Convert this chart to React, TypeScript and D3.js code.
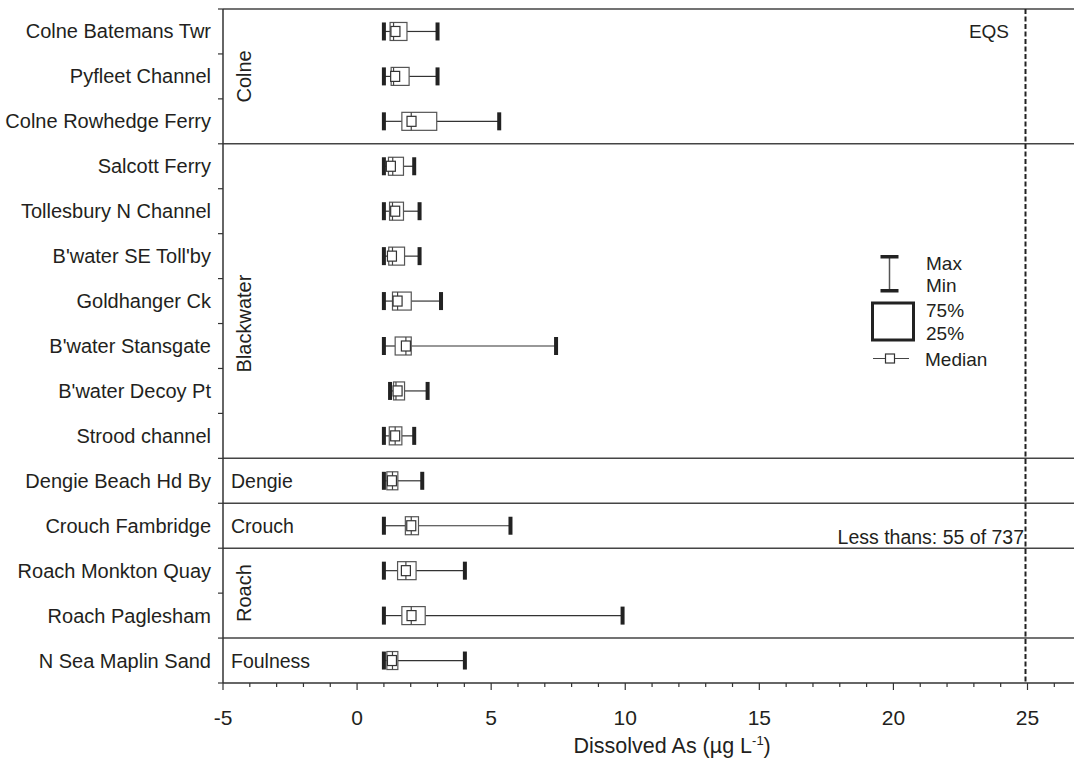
import React from "react";
import * as d3 from "d3";

// Sampling sites, top to bottom
const sites = [
  "Colne Batemans Twr",
  "Pyfleet Channel",
  "Colne Rowhedge Ferry",
  "Salcott Ferry",
  "Tollesbury N Channel",
  "B'water SE Toll'by",
  "Goldhanger Ck",
  "B'water Stansgate",
  "B'water Decoy Pt",
  "Strood channel",
  "Dengie Beach Hd By",
  "Crouch Fambridge",
  "Roach Monkton Quay",
  "Roach Paglesham",
  "N Sea Maplin Sand",
];

// Dissolved As summary statistics (µg/L) per site
const minVals = [1.0, 1.0, 1.0, 1.0, 1.0, 1.0, 1.0, 1.0, 1.23, 1.0, 1.0, 1.0, 1.0, 1.0, 1.0];
const q25Vals = [1.23, 1.27, 1.67, 1.17, 1.21, 1.18, 1.32, 1.42, 1.36, 1.2, 1.11, 1.8, 1.51, 1.67, 1.11];
const medianLineVals = [1.36, 1.36, 2.02, 1.33, 1.32, 1.32, 1.51, 1.82, 1.45, 1.42, 1.32, 2.02, 1.82, 2.02, 1.32];
const medianMarkVals = [1.43, 1.42, 2.03, 1.26, 1.42, 1.3, 1.51, 1.82, 1.51, 1.42, 1.3, 2.02, 1.82, 2.03, 1.3];
const q75Vals = [1.86, 1.94, 2.97, 1.73, 1.73, 1.77, 2.02, 2.02, 1.77, 1.67, 1.52, 2.29, 2.2, 2.54, 1.52];
const maxVals = [3.0, 3.0, 5.3, 2.13, 2.33, 2.33, 3.13, 7.42, 2.63, 2.13, 2.43, 5.72, 4.02, 9.9, 4.02];

// Estuary groups: name, first site index, last site index
const groupNames = ["Colne", "Blackwater", "Dengie", "Crouch", "Roach", "Foulness"];
const groupFirst = [0, 3, 10, 11, 12, 14];
const groupLast = [2, 9, 10, 11, 13, 14];

const xTicksMajor = [-5, 0, 5, 10, 15, 20, 25];
const eqsValue = 25;
const lessThansText = "Less thans: 55 of 737";

const W = 1074;
const H = 763;
const FONT = "'Liberation Sans', Arial, Helvetica, sans-serif";
const INK = "#231f20";

export default function App() {
  const plotLeft = 223;
  const plotTop = 9;
  const plotBottom = 683;

  const x = d3.scaleLinear().domain([-5, 25]).range([plotLeft, 1027.5]);
  const y = d3.scaleBand<string>().domain(sites).range([plotTop, plotBottom]).paddingInner(0).paddingOuter(0);
  const bw = y.bandwidth();
  const cy = (i: number) => (y(sites[i]) as number) + bw / 2;

  const minorTicks = d3.range(-5, 27, 1);
  const boundaries = d3.range(0, sites.length + 1).map((i) => plotTop + i * bw);

  const boxH = 18;
  const capW = 4;
  const markW = 9;
  const markH = 10;

  // rotated group labels are centred on a chosen row position (in row units)
  const rotatedAnchor: Record<string, number> = { Colne: 1.5, Blackwater: 7.0, Roach: 13.0 };

  return (
    <svg
      width={W}
      height={H}
      style={{ position: "absolute", left: 0, top: 0, display: "block", background: "#fff" }}
      fontFamily={FONT}
    >
      <rect x={0} y={0} width={W} height={H} fill="#fff" />

      {/* group separators and top frame */}
      {[plotTop, ...groupLast.slice(0, -1).map((g) => plotTop + (g + 1) * bw)].map((yy, i) => (
        <line key={"sep" + i} x1={plotLeft} x2={W} y1={yy} y2={yy} stroke="#444" strokeWidth={1.5} />
      ))}

      {/* EQS line */}
      <line
        x1={x(eqsValue) - 2}
        x2={x(eqsValue) - 2}
        y1={plotTop}
        y2={plotBottom}
        stroke="#222"
        strokeWidth={2}
        strokeDasharray="5,2.5"
      />
      <text x={1009} y={38} textAnchor="end" fontSize={19} fill={INK}>
        EQS
      </text>
      <text x={1024} y={544} textAnchor="end" fontSize={19.5} fill={INK}>
        {lessThansText}
      </text>

      {/* left axis */}
      <line x1={plotLeft} x2={plotLeft} y1={plotTop} y2={plotBottom} stroke="#333" strokeWidth={1.5} />
      {boundaries.map((b, i) => (
        <line key={"yt" + i} x1={plotLeft - 5} x2={plotLeft} y1={b} y2={b} stroke="#333" strokeWidth={1.2} />
      ))}
      {sites.map((s, i) => (
        <text key={s} x={211} y={cy(i) + 7} textAnchor="end" fontSize={20} fill={INK}>
          {s}
        </text>
      ))}

      {/* bottom axis */}
      <line x1={plotLeft} x2={W} y1={plotBottom} y2={plotBottom} stroke="#333" strokeWidth={1.5} />
      {minorTicks.map((t) => (
        <line
          key={"xt" + t}
          x1={x(t)}
          x2={x(t)}
          y1={plotBottom}
          y2={plotBottom + (t % 5 === 0 ? 7 : 4)}
          stroke="#333"
          strokeWidth={1.2}
        />
      ))}
      {xTicksMajor.map((t) => (
        <text key={"xl" + t} x={x(t)} y={725} textAnchor="middle" fontSize={21} fill={INK}>
          {t}
        </text>
      ))}
      <text x={x(11.75)} y={753} textAnchor="middle" fontSize={21.5} fill={INK}>
        Dissolved As (µg L
        <tspan dy={-8} fontSize={13}>
          -1
        </tspan>
        <tspan dy={8}>)</tspan>
      </text>

      {/* group labels */}
      {groupNames.map((g, gi) => {
        const first = groupFirst[gi];
        const last = groupLast[gi];
        if (last > first) {
          const yc = plotTop + rotatedAnchor[g] * bw;
          return (
            <text
              key={"g" + g}
              transform={`translate(251,${yc}) rotate(-90)`}
              textAnchor="middle"
              fontSize={20}
              fill={INK}
            >
              {g}
            </text>
          );
        }
        return (
          <text key={"g" + g} x={231} y={cy(first) + 7} fontSize={19.5} fill={INK}>
            {g}
          </text>
        );
      })}

      {/* box plots */}
      {sites.map((s, i) => {
        const c = cy(i);
        const xMin = x(minVals[i]);
        const xMax = x(maxVals[i]);
        const x25 = x(q25Vals[i]);
        const x75 = x(q75Vals[i]);
        const xMed = x(medianLineVals[i]);
        const xMark = x(medianMarkVals[i]);
        return (
          <g key={"bp" + i}>
            <line x1={xMin} x2={x25} y1={c} y2={c} stroke="#333" strokeWidth={1.2} />
            <line x1={x75} x2={xMax} y1={c} y2={c} stroke="#333" strokeWidth={1.2} />
            <rect
              x={x25}
              y={c - boxH / 2}
              width={x75 - x25}
              height={boxH}
              fill="#fff"
              stroke="#555"
              strokeWidth={1.2}
            />
            <line x1={xMed} x2={xMed} y1={c - boxH / 2} y2={c + boxH / 2} stroke="#444" strokeWidth={1.2} />
            <rect
              x={xMark - markW / 2}
              y={c - markH / 2}
              width={markW}
              height={markH}
              fill="#fff"
              stroke="#333"
              strokeWidth={1.2}
            />
            <rect x={xMin - capW / 2} y={c - boxH / 2} width={capW} height={boxH} fill="#222" />
            <rect x={xMax - capW / 2} y={c - boxH / 2} width={capW} height={boxH} fill="#222" />
          </g>
        );
      })}

      {/* legend */}
      <g>
        <line x1={889.5} x2={889.5} y1={257} y2={291} stroke="#555" strokeWidth={1.5} />
        <rect x={880.5} y={255} width={18} height={3.5} fill="#222" />
        <rect x={880.5} y={289} width={18} height={3.5} fill="#222" />
        <text x={926} y={270} fontSize={19} fill={INK}>
          Max
        </text>
        <text x={926} y={292} fontSize={19} fill={INK}>
          Min
        </text>
        <rect x={872.5} y={303} width={41} height={37} fill="#fff" stroke="#222" strokeWidth={3} />
        <text x={926} y={317} fontSize={19} fill={INK}>
          75%
        </text>
        <text x={926} y={340} fontSize={19} fill={INK}>
          25%
        </text>
        <line x1={873} x2={909} y1={358.5} y2={358.5} stroke="#444" strokeWidth={1.2} />
        <rect x={885.5} y={354} width={9} height={9} fill="#fff" stroke="#333" strokeWidth={1.2} />
        <text x={925} y={366} fontSize={19} fill={INK}>
          Median
        </text>
      </g>
    </svg>
  );
}
